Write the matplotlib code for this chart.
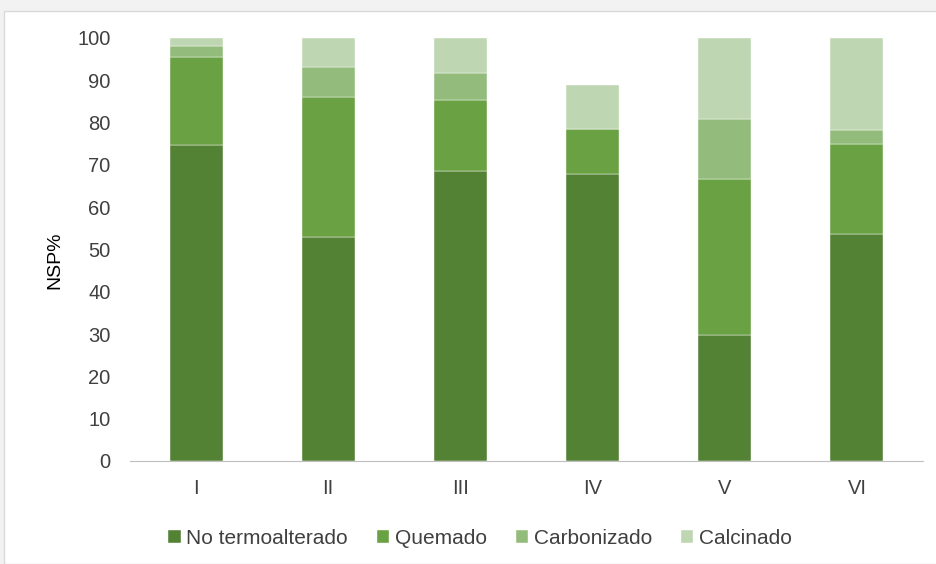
import matplotlib
matplotlib.use("Agg")
import matplotlib.pyplot as plt
from matplotlib.patches import Rectangle
import numpy as np

plt.rcParams['font.family'] = ['Liberation Sans', 'DejaVu Sans']

# data
levels = ["I", "II", "III", "IV", "V", "VI"]
no_termo = [74.7, 53.0, 68.6, 67.8, 29.8, 53.7]
quemado = [20.9, 33.0, 16.7, 10.7, 36.9, 21.2]
carbonizado = [2.5, 7.2, 6.4, 0.0, 14.2, 3.3]
calcinado = [1.9, 6.8, 8.3, 10.5, 19.1, 21.8]

series = [("No termoalterado", no_termo, "#548235"),
          ("Quemado", quemado, "#6aa143"),
          ("Carbonizado", carbonizado, "#93bb7b"),
          ("Calcinado", calcinado, "#bfd6b3")]

fig = plt.figure(figsize=(9.36, 5.64), dpi=100)
fig.patch.set_facecolor("#f2f2f2")
# white panel with thin frame, like the screenshot
fig.patches.append(Rectangle((4 / 936, 0), 1, 1 - 11 / 564, transform=fig.transFigure,
                             facecolor="white", edgecolor="#d9d9d9", lw=1, zorder=-5))

ax = fig.add_axes([130 / 936, (564 - 461) / 564, (923 - 130) / 936, (461 - 38) / 564])
ax.set_facecolor("none")
ax.set_zorder(2)

x = np.arange(len(levels))
bottom = np.zeros(len(levels))
for name, vals, col in series:
    vals = np.array(vals)
    ax.bar(x, vals, 0.4, bottom=bottom, color=col, label=name, edgecolor="white", linewidth=0.3)
    bottom += vals

ax.set_xlim(-0.5, len(levels) - 0.5)
ax.set_ylim(0, 100)
ax.set_yticks(range(0, 101, 10))
ax.set_xticks(x)
ax.set_xticklabels(levels)
ax.tick_params(axis="both", length=0, labelsize=14.5, colors="#404040")
ax.tick_params(axis="x", pad=13)
ax.tick_params(axis="y", pad=14)
for s in ["top", "right", "left"]:
    ax.spines[s].set_visible(False)
ax.spines["bottom"].set_color("#bfbfbf")

fig.text(55 / 936, (564 - 260) / 564, "NSP%", rotation=90, fontsize=14,
         color="black", ha="center", va="center")

ax.legend(loc="center", bbox_to_anchor=(480 / 936, (564 - 538) / 564),
          bbox_transform=fig.transFigure, ncol=4, frameon=False,
          fontsize=15, handlelength=0.6, handleheight=0.6, handletextpad=0.25,
          columnspacing=1.4, labelcolor="#404040")

plt.savefig("out.png", dpi=100)
